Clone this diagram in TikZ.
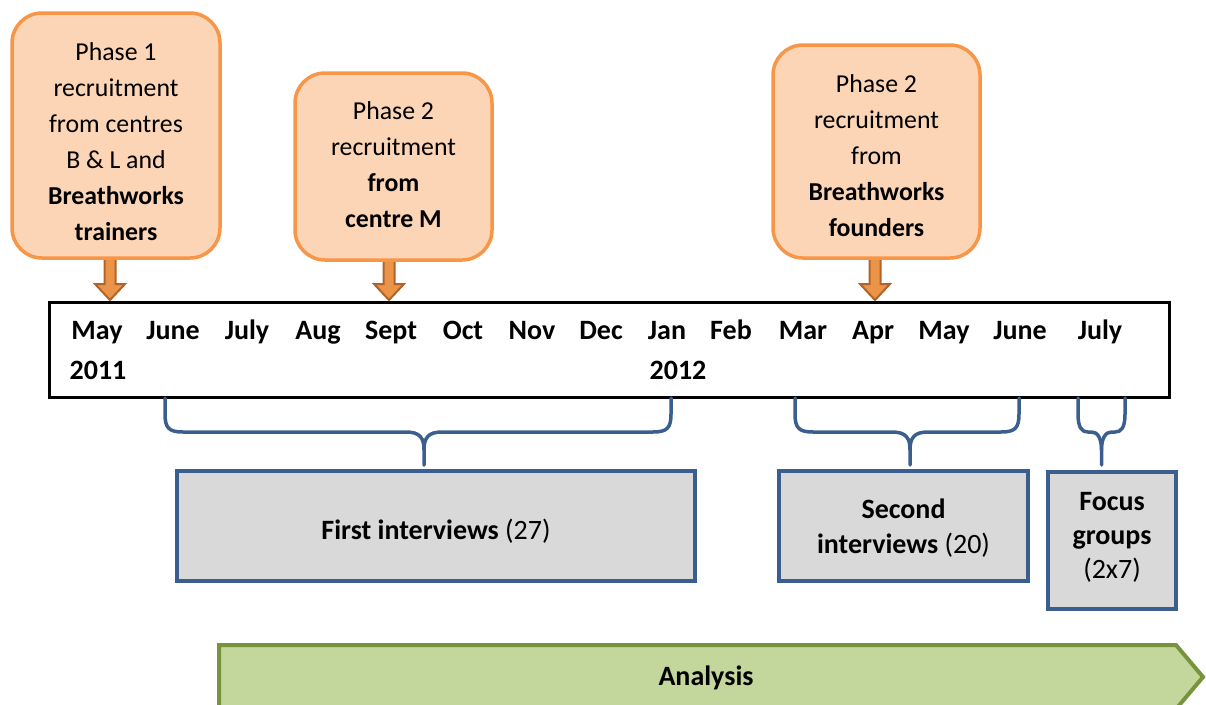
\documentclass[tikz,border=0pt]{standalone}
\usepackage{fontspec}
\setmainfont{Carlito}
\usetikzlibrary{calc}
\definecolor{oborder}{HTML}{F79646}
\definecolor{ofill}{HTML}{FBD5B5}
\definecolor{adraw}{HTML}{B0632A}
\definecolor{afill}{HTML}{EB9447}
\definecolor{bblue}{HTML}{3A5F8E}
\definecolor{gfill}{HTML}{D9D9D9}
\definecolor{gnborder}{HTML}{77933C}
\definecolor{gnfill}{HTML}{C3D69B}
\newcommand\blockarrow[2]{%
  \draw[downarr] ($(#1)+(-5.5,0)$) -- ($(#2)+(-5.5,-16)$) -- ($(#2)+(-15,-16)$) -- (#2)
    -- ($(#2)+(15,-16)$) -- ($(#2)+(5.5,-16)$) -- ($(#1)+(5.5,0)$) -- cycle;}
\newcommand\mybrace[5]{% x1, x2, xm, r, name
  \coordinate (#5l) at (#1,398);
  \coordinate (#5r) at (#2,398);
  \coordinate (#5t) at (#3,465);
  \draw[bracestyle] (#5l) -- (#1,414) .. controls (#1,428) and ({#1+4},432) .. ({#1+#4},432)
     -- ({#3-#4},432) .. controls ({#3-4},432) and (#3,438) .. (#3,450) -- (#5t);
  \draw[bracestyle] (#5r) -- (#2,414) .. controls (#2,428) and ({#2-4},432) .. ({#2-#4},432)
     -- ({#3+#4},432) .. controls ({#3+4},432) and (#3,438) .. (#3,450);}
\begin{document}
\begin{tikzpicture}[x=1pt,y=-1pt,
  every node/.style={font=\fontsize{25.8}{36}\selectfont, inner sep=0pt, outer sep=0pt},
  phase/.style={draw=oborder, fill=ofill, line width=3.5pt, rounded corners=30pt},
  ptext/.style={align=center},
  downarr/.style={draw=adraw, fill=afill, line width=2pt, line join=miter},
  tline/.style={draw=black, line width=3pt},
  mon/.style={anchor=base, font=\fontsize{28}{36}\selectfont\bfseries},
  bracestyle/.style={draw=bblue, line width=3.5pt, line cap=round},
  greybox/.style={draw=bblue, fill=gfill, line width=3.5pt, align=center},
  gtext/.style={align=center},
  ]
\useasboundingbox (0,0) rectangle (1206,704);

% timeline
\node[tline, minimum width=1120pt, minimum height=95pt] (tl) at (609,349.5) {};
\foreach \n/\x/\t in {1/97/May,2/173/June,3/247/July,4/318/Aug,5/391/Sept,6/463/Oct,7/532/Nov,8/601/Dec,9/667/Jan,10/731/Feb,11/803/Mar,12/873/Apr,13/944/May,14/1020/June,15/1100/July}
  \node[mon] (m\n) at (\x,339) {\t};
\node[mon] (y1) at (98,379) {2011};
\node[mon] (y2) at (678,379) {2012};

% arrows
\coordinate (a1s) at (110,256);
\coordinate (a1e) at (110,300);
\coordinate (a2s) at (389,258);
\coordinate (a2e) at (389,300);
\coordinate (a3s) at (875,256);
\coordinate (a3e) at (875,300);
\blockarrow{a1s}{a1e}
\blockarrow{a2s}{a2e}
\blockarrow{a3s}{a3e}

% phase boxes
\node[phase, minimum width=208pt, minimum height=245pt] (p1) at (116,135.5) {};
\node[ptext] (p1t) at (116,141.5) {Phase 1\\recruitment\\from centres\\B \& L and\\\textbf{Breathworks}\\\textbf{trainers}};
\node[phase, minimum width=197pt, minimum height=187pt] (p2) at (393.5,166.5) {};
\node[ptext] (p2t) at (393.5,164.5) {Phase 2\\recruitment\\\textbf{from}\\\textbf{centre M}};
\node[phase, minimum width=207pt, minimum height=213pt] (p3) at (876.5,151.5) {};
\node[ptext] (p3t) at (876.5,155.5) {Phase 2\\recruitment\\from\\\textbf{Breathworks}\\\textbf{founders}};

% braces
\mybrace{165}{671}{424}{18}{b1}
\mybrace{795}{1019}{910}{18}{b2}
\mybrace{1078}{1125}{1101.5}{10}{b3}

% grey boxes
\node[greybox, minimum width=518pt, minimum height=110pt] (fi) at (436,526) {};
\node[gtext, font=\fontsize{28}{36}\selectfont] (fit) at (436,531) {\textbf{First interviews} (27)};
\node[greybox, minimum width=249pt, minimum height=110pt] (si) at (903.5,526) {};
\node[gtext, font=\fontsize{28}{35}\selectfont] (sit) at (903.5,528.5) {\textbf{Second}\\\textbf{interviews} (20)};
\node[greybox, minimum width=128pt, minimum height=137pt] (fg) at (1112,540.5) {};
\node[gtext, font=\fontsize{28}{34}\selectfont] (fgt) at (1112,537) {\textbf{Focus}\\\textbf{groups}\\(2x7)};

% analysis
\draw[draw=gnborder, fill=gnfill, line width=4pt, line join=miter] (219,645) coordinate (an1) -- (1176,645) -- (1203,677) coordinate (an2) -- (1176,709) -- (219,709) -- cycle;
\node[font=\fontsize{28}{36}\selectfont\bfseries] (an) at (706,678) {Analysis};
\end{tikzpicture}
\end{document}
